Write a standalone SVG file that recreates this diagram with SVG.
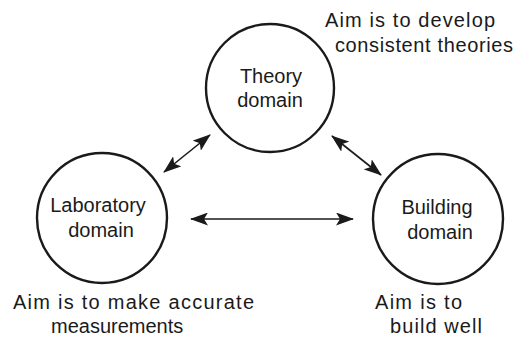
<svg xmlns="http://www.w3.org/2000/svg" width="529" height="339" viewBox="0 0 529 339">
<style>
.node circle{fill:none;stroke:#1a1a1a;stroke-width:2.4}
text{font-family:"Liberation Sans",Arial,sans-serif;font-size:20px;fill:#1a1a1a}
.c{text-anchor:middle}
.conn line{stroke:#1a1a1a;stroke-width:1.6}
</style>
<defs>
<marker id="ah" viewBox="0 0 18 13" refX="17" refY="6.5" markerWidth="18" markerHeight="13" markerUnits="userSpaceOnUse" orient="auto-start-reverse">
<path d="M0,0 L18,6.5 L0,13 L4,6.5 Z" fill="#1a1a1a"/>
</marker>
</defs>
<rect width="529" height="339" fill="#fff"/>
<g id="theory" class="node">
<circle cx="270" cy="88" r="64"/>
<text class="c" x="271" y="83">Theory</text>
<text class="c" x="270" y="107">domain</text>
</g>
<g id="laboratory" class="node">
<circle cx="102" cy="218" r="65"/>
<text class="c" x="98" y="212">Laboratory</text>
<text class="c" x="101" y="237">domain</text>
</g>
<g id="building" class="node">
<circle cx="438" cy="219" r="65"/>
<text class="c" x="437" y="214">Building</text>
<text class="c" x="440" y="239">domain</text>
</g>
<g id="notes">
<text x="325" y="27" textLength="170" lengthAdjust="spacing">Aim is to develop</text>
<text x="335" y="52" textLength="178" lengthAdjust="spacing">consistent theories</text>
<text x="13" y="309" textLength="241" lengthAdjust="spacing">Aim is to make accurate</text>
<text x="51" y="333">measurements</text>
<text x="375" y="309" textLength="87" lengthAdjust="spacing">Aim is to</text>
<text x="390" y="333" textLength="92" lengthAdjust="spacing">build well</text>
</g>
<g id="connectors" class="conn">
<line x1="164" y1="172" x2="210" y2="135" marker-start="url(#ah)" marker-end="url(#ah)"/>
<line x1="332" y1="136" x2="381" y2="175" marker-start="url(#ah)" marker-end="url(#ah)"/>
<line x1="191" y1="219" x2="353" y2="219" marker-start="url(#ah)" marker-end="url(#ah)"/>
</g>
</svg>
